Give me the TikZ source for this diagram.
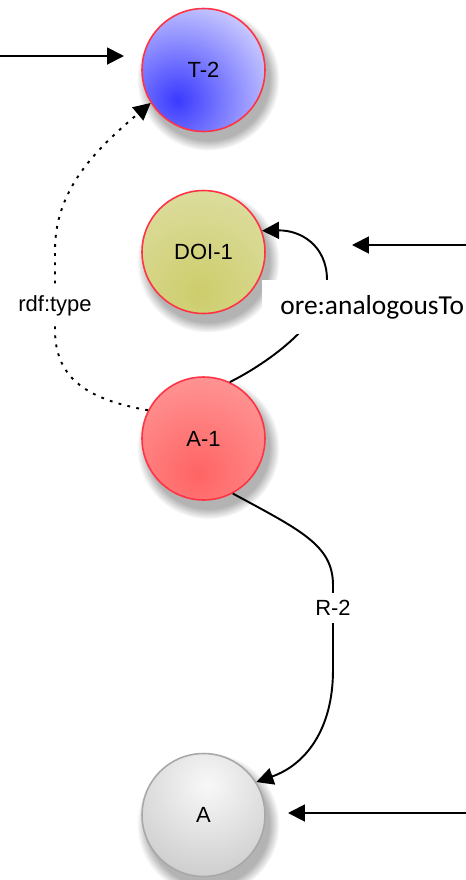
\documentclass[tikz,border=0pt]{standalone}
\usepackage{fontspec}
\newfontfamily\helvfont{Liberation Sans}
\newfontfamily\calibfont{Carlito}
\usetikzlibrary{arrows.meta,shadows,calc}
\definecolor{ringred}{HTML}{FF3344}
\definecolor{ringgray}{HTML}{A8A8A8}
\definecolor{typecore}{HTML}{3A3AFF}
\definecolor{typeedge}{HTML}{DCDCFF}
\definecolor{doicore}{HTML}{CDCD6C}
\definecolor{doiedge}{HTML}{E2E2B0}
\definecolor{artcore}{HTML}{FF6464}
\definecolor{artedge}{HTML}{FFA8A8}
\definecolor{plaincore}{HTML}{F8F8F8}
\definecolor{plainedge}{HTML}{B8B8B8}
\tikzset{
	resource/.style={circle, draw=ringred, line width=0.9pt, minimum size=2.46cm, inner sep=0pt,
		font=\helvfont\fontsize{12.5}{14}\selectfont,
		circular drop shadow={shadow xshift=0.08cm, shadow yshift=-0.16cm, shadow scale=1.16, opacity=0.6}},
	glow/.style n args={5}{path picture={
		\shade[inner color=#1, outer color=#2] ($(path picture bounding box.center)+(#3,#4)$) circle (#5);}},
	link/.style={line width=1.1pt, -{Triangle[length=0.34cm,width=0.34cm]}},
	typeline/.style={link, dash pattern=on 1.6pt off 3.6pt},
	linklabel/.style={fill=white, inner xsep=1pt, inner ysep=0.14cm, font=\helvfont\fontsize{12.5}{14}\selectfont},
	analoglabel/.style={fill=white, inner xsep=0.36cm, inner ysep=0.3cm, font=\calibfont\fontsize{15.6}{18}\selectfont}
}
\begin{document}
\begin{tikzpicture}[x=0.02cm, y=-0.02cm]
	%Frame, one unit is one pixel of the screenshot
	\useasboundingbox (0,0) rectangle (466,880);
	%The resources
	\node [resource, glow={typecore}{typeedge}{-0.52cm}{-0.6cm}{2.3cm}] (T2) at (203.5,70) {T-2};
	\node [resource, glow={doicore}{doiedge}{-0.1cm}{-0.8cm}{2.8cm}] (DOI1) at (203.5,252) {DOI-1};
	\node [resource, glow={artcore}{artedge}{-0.12cm}{-0.7cm}{2.8cm}] (A1) at (203.5,438.5) {A-1};
	\node [resource, draw=ringgray, glow={plaincore}{plainedge}{0.08cm}{0.6cm}{2.8cm}] (A) at (203.5,815) {A};
	%Incoming pointers from outside
	\coordinate (inT2) at (0,56);
	\coordinate (tipT2) at (124,56);
	\coordinate (inDOI1) at (466,245);
	\coordinate (tipDOI1) at (352,245);
	\coordinate (inA) at (466,813);
	\coordinate (tipA) at (288,813);
	\draw [link] (inT2) -- (tipT2);
	\draw [link] (inDOI1) -- (tipDOI1);
	\draw [link] (inA) -- (tipA);
	%rdf:type from A-1 up to T-2
	\draw [typeline] (A1.153) .. controls (90,400) and (55,380) .. (55,330)
		-- node [linklabel, pos=0.3] (rdftype) {rdf:type} (55,250)
		.. controls (55,190) and (95,150) .. (T2.212);
	%A-1 is analogous to DOI-1
	\draw [link] (A1.65) .. controls (270,362) and (327,320) .. (327,280)
		.. controls (327,245) and (300,230) .. (DOI1.20);
	\node [analoglabel, anchor=west] (analog) at (262,307) {ore:analogousTo};
	%R-2 from A-1 down to A
	\draw [link] (A1.-62) .. controls (300,530) and (333,545) .. (333,585)
		-- node [linklabel, pos=0.27] (rtwo) {R-2} (333,670)
		.. controls (333,730) and (305,765) .. (A.32);
\end{tikzpicture}
\end{document}
